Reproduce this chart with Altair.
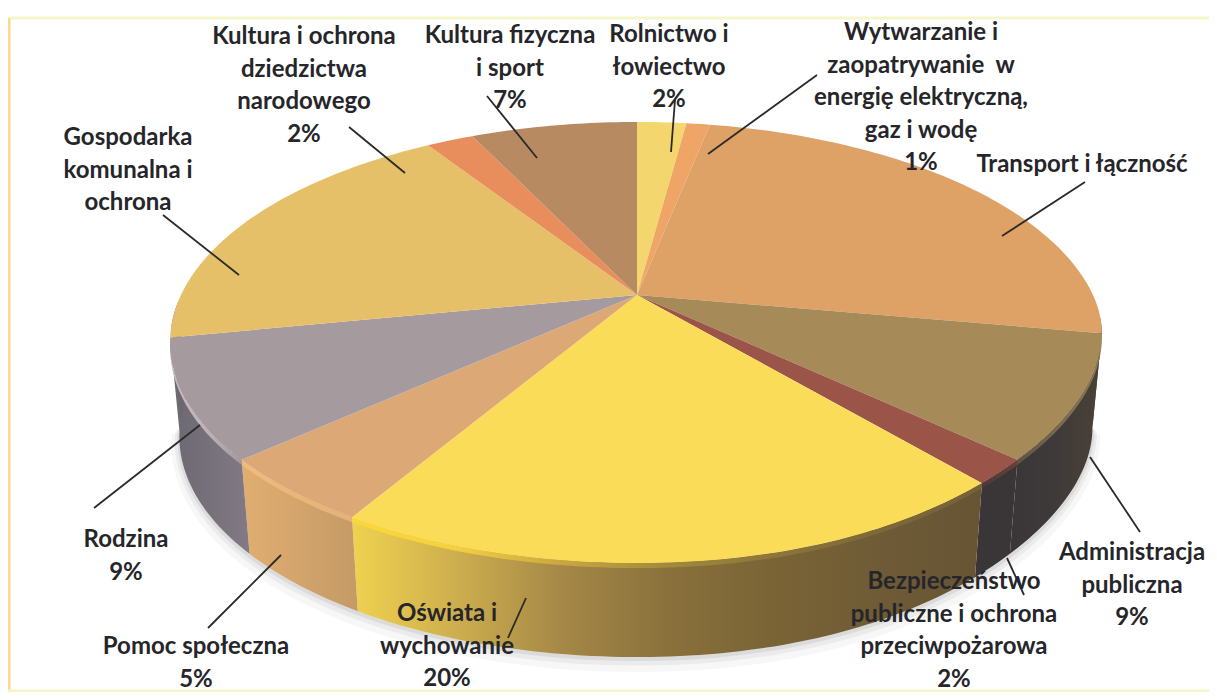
import math
import altair as alt
import pandas as pd

# --- data -----------------------------------------------------------------
categories = ["Rolnictwo", "Wytwarzanie", "Transport", "Administracja", "Bezpieczenstwo",
              "Oswiata", "Pomoc", "Rodzina", "Gospodarka", "Kultura", "KulturaFiz"]
shares = [2.1, 1.0, 24.7, 8.9, 1.8, 20.0, 4.8, 8.6, 19.0, 2.0, 7.1]
label_texts = [
    "Rolnictwo i\nłowiectwo\n2%",
    "Wytwarzanie i\nzaopatrywanie\u00a0 w\nenergię elektryczną,\ngaz i wodę\n1%",
    "Transport i łączność",
    "Administracja\npubliczna\n9%",
    "Bezpieczeństwo\npubliczne i ochrona\nprzeciwpożarowa\n2%",
    "Oświata i\nwychowanie\n20%",
    "Pomoc społeczna\n5%",
    "Rodzina\n9%",
    "Gospodarka\nkomunalna i\nochrona",
    "Kultura i ochrona\ndziedzictwa\nnarodowego\n2%",
    "Kultura fizyczna\ni sport\n7%",
]
label_x = [669, 921, 1082, 1132, 954, 447, 196, 126, 128, 304, 510]
label_y = [35, 33, 165, 553, 582, 614, 647, 540, 138, 37, 36]
lead_x1 = [675, 817, 1085, 1090, 1007, 526, 281, 200, 163, 349, 487]
lead_y1 = [100, 75, 182, 457, 558, 598, 555, 425, 215, 127, 96]
lead_x2 = [671, 708, 1002, 1140, 1024, 508, 208, 94, 239, 405, 537]
lead_y2 = [152, 154, 236, 532, 595, 638, 628, 508, 275, 173, 158]

# --- styles ---------------------------------------------------------------
top_colors = ["#f3d66d", "#eea565", "#dea266", "#a68a58", "#9a5448", "#fbdc58",
              "#dca876", "#a59a9d", "#e6c068", "#e88d5c", "#b78a62"]
# colours from the left to the right of each visible wall
side_stops = {
    "Administracja": ["#3a3638", "#3f3a3a", "#4a4236"],
    "Bezpieczenstwo": ["#3a3638", "#3a3638"],
    "Oswiata": ["#efd24f", "#cdae4e", "#a58847", "#8a713c", "#7a6436", "#6f5b36", "#665434"],
    "Pomoc": ["#e0ae70", "#d3a46c", "#c49a66"],
    "Rodzina": ["#6c6872", "#76717a", "#827a84"],
}
edge_stops = {
    "Administracja": ["#5c5444", "#7a6a4e", "#8a7850"],
    "Bezpieczenstwo": ["#4a3a38", "#6a4038"],
    "Oswiata": ["#fbd838", "#f3d040", "#c8a83e", "#a08a3c", "#8c763a", "#7d6838", "#75623a"],
    "Pomoc": ["#eebd7e", "#e8b679", "#e4b27a"],
    "Rodzina": ["#c8bcc0", "#c0b4b8", "#a09a9c"],
}

CX, APEX_Y, A, B, K = 637.0, 295.0, 456.0, 210.3, 0.2154
DEPTH, SHRINK = 94.0, 0.98
OX, OY = 8.0, 8.0
W, H = 1201, 684


def rim(theta_deg):
    t = math.radians(theta_deg)
    w = 1 + K * math.cos(t)
    x = CX + A * math.sin(t) / w
    if 90 < theta_deg < 180:
        x -= 15 * math.sin(2 * (t - math.pi / 2)) ** 2
    return x, APEX_Y - B * math.cos(t) / w


def low(x, y):
    return CX + (x - CX) * SHRINK, y + DEPTH


def grad(colors):
    n = len(colors) - 1
    return alt.Gradient(
        gradient="linear", x1=0, x2=1, y1=0, y2=0,
        stops=[alt.GradientStop(offset=i / n, color=c) for i, c in enumerate(colors)],
    )


bounds = [0.0]
for s in shares:
    bounds.append(bounds[-1] + s * 3.6)

xs = alt.Scale(domain=[0, W], range=[0, W], nice=False, zero=False)
ys = alt.Scale(domain=[0, H], range=[0, H], nice=False, zero=False)
X = alt.X("x:Q", scale=xs, axis=None)
Y = alt.Y("y:Q", scale=ys, axis=None)


def frame_of(points):
    return pd.DataFrame({
        "x": [p[0] - OX for p in points],
        "y": [p[1] - OY for p in points],
        "n": list(range(len(points))),
    })


def poly(points, fill):
    return alt.Chart(frame_of(points)).mark_line(
        fill=fill, stroke=None, strokeWidth=0, interpolate="linear"
    ).encode(x=X, y=Y, order="n:Q")


layers = []

# frame of the scanned page
frame = pd.DataFrame({
    "x": [0, 1, 0], "x2": [1201, 1, 1201],
    "y": [10, 10, 683], "y2": [10, 683, 683],
    "c": ["#f6f6cc", "#fbd98a", "#f5f5c8"],
})
layers.append(alt.Chart(frame).mark_rule(strokeWidth=3).encode(
    x=X, x2="x2:Q", y=Y, y2="y2:Q", color=alt.Color("c:N", scale=None)
))

# soft shadow below the disc
for off, op, wd in [(7, 0.05, 16), (4, 0.08, 9), (2, 0.12, 4)]:
    pts = []
    for th in range(100, 262, 2):
        x, y = low(*rim(th))
        pts.append((x, y + off))
    layers.append(alt.Chart(frame_of(pts)).mark_line(
        color="#6a6a6a", opacity=op, strokeWidth=wd
    ).encode(x=X, y=Y, order="n:Q"))

# side wall
for i, cat in enumerate(categories):
    if cat not in side_stops:
        continue
    a0, a1 = max(bounds[i], 100), min(bounds[i + 1], 262)
    steps = max(2, int((a1 - a0) / 1.0))
    upper = [rim(a0 + (a1 - a0) * j / steps) for j in range(steps + 1)]
    lower = [low(*p) for p in upper]
    layers.append(poly(upper + lower[::-1], grad(side_stops[cat])))

# a wall filler behind the far right and left corners of the silhouette
for a0, a1, col in [(96, 100, "#4a4236"), (262, 268, "#6c6872")]:
    upper = [rim(a0 + (a1 - a0) * j / 4) for j in range(5)]
    lower = [low(*p) for p in upper]
    layers.append(poly(upper + lower[::-1], col))

# top face
for i, cat in enumerate(categories):
    a0, a1 = bounds[i], bounds[i + 1]
    steps = max(2, int((a1 - a0) / 1.0))
    pts = [(CX, APEX_Y)] + [rim(a0 + (a1 - a0) * j / steps) for j in range(steps + 1)]
    layers.append(poly(pts, top_colors[i]))

# rounded edge of the rim
for i, cat in enumerate(categories):
    if cat not in edge_stops:
        continue
    a0, a1 = bounds[i], bounds[i + 1]
    steps = max(2, int((a1 - a0) / 1.0))
    upper = [rim(a0 + (a1 - a0) * j / steps) for j in range(steps + 1)]
    lower = [(x, y + 5) for x, y in upper]
    layers.append(poly(upper + lower[::-1], grad(edge_stops[cat])))

labels_df = pd.DataFrame({
    "x": [v - OX for v in label_x], "y": [v - OY for v in label_y], "t": label_texts
})
leads_df = pd.DataFrame({
    "x": [v - OX for v in lead_x1], "y": [v - OY for v in lead_y1],
    "x2": [v - OX for v in lead_x2], "y2": [v - OY for v in lead_y2],
})
layers.append(alt.Chart(leads_df).mark_rule(color="#2a2a2a", strokeWidth=1.8).encode(
    x=X, y=Y, x2="x2:Q", y2="y2:Q"
))
layers.append(alt.Chart(labels_df).mark_text(
    font="Lato", fontWeight="bold", fontSize=24, lineBreak="\n", lineHeight=32.5,
    color="#26262a", align="center", baseline="middle",
).encode(x=X, y=Y, text="t:N"))

chart = alt.layer(*layers).properties(
    width=W, height=H, padding=0, background="#ffffff",
    autosize=alt.AutoSizeParams(type="none"),
).configure_view(stroke=None)

chart.save("out.html", embed_options={"renderer": "svg", "actions": False})
